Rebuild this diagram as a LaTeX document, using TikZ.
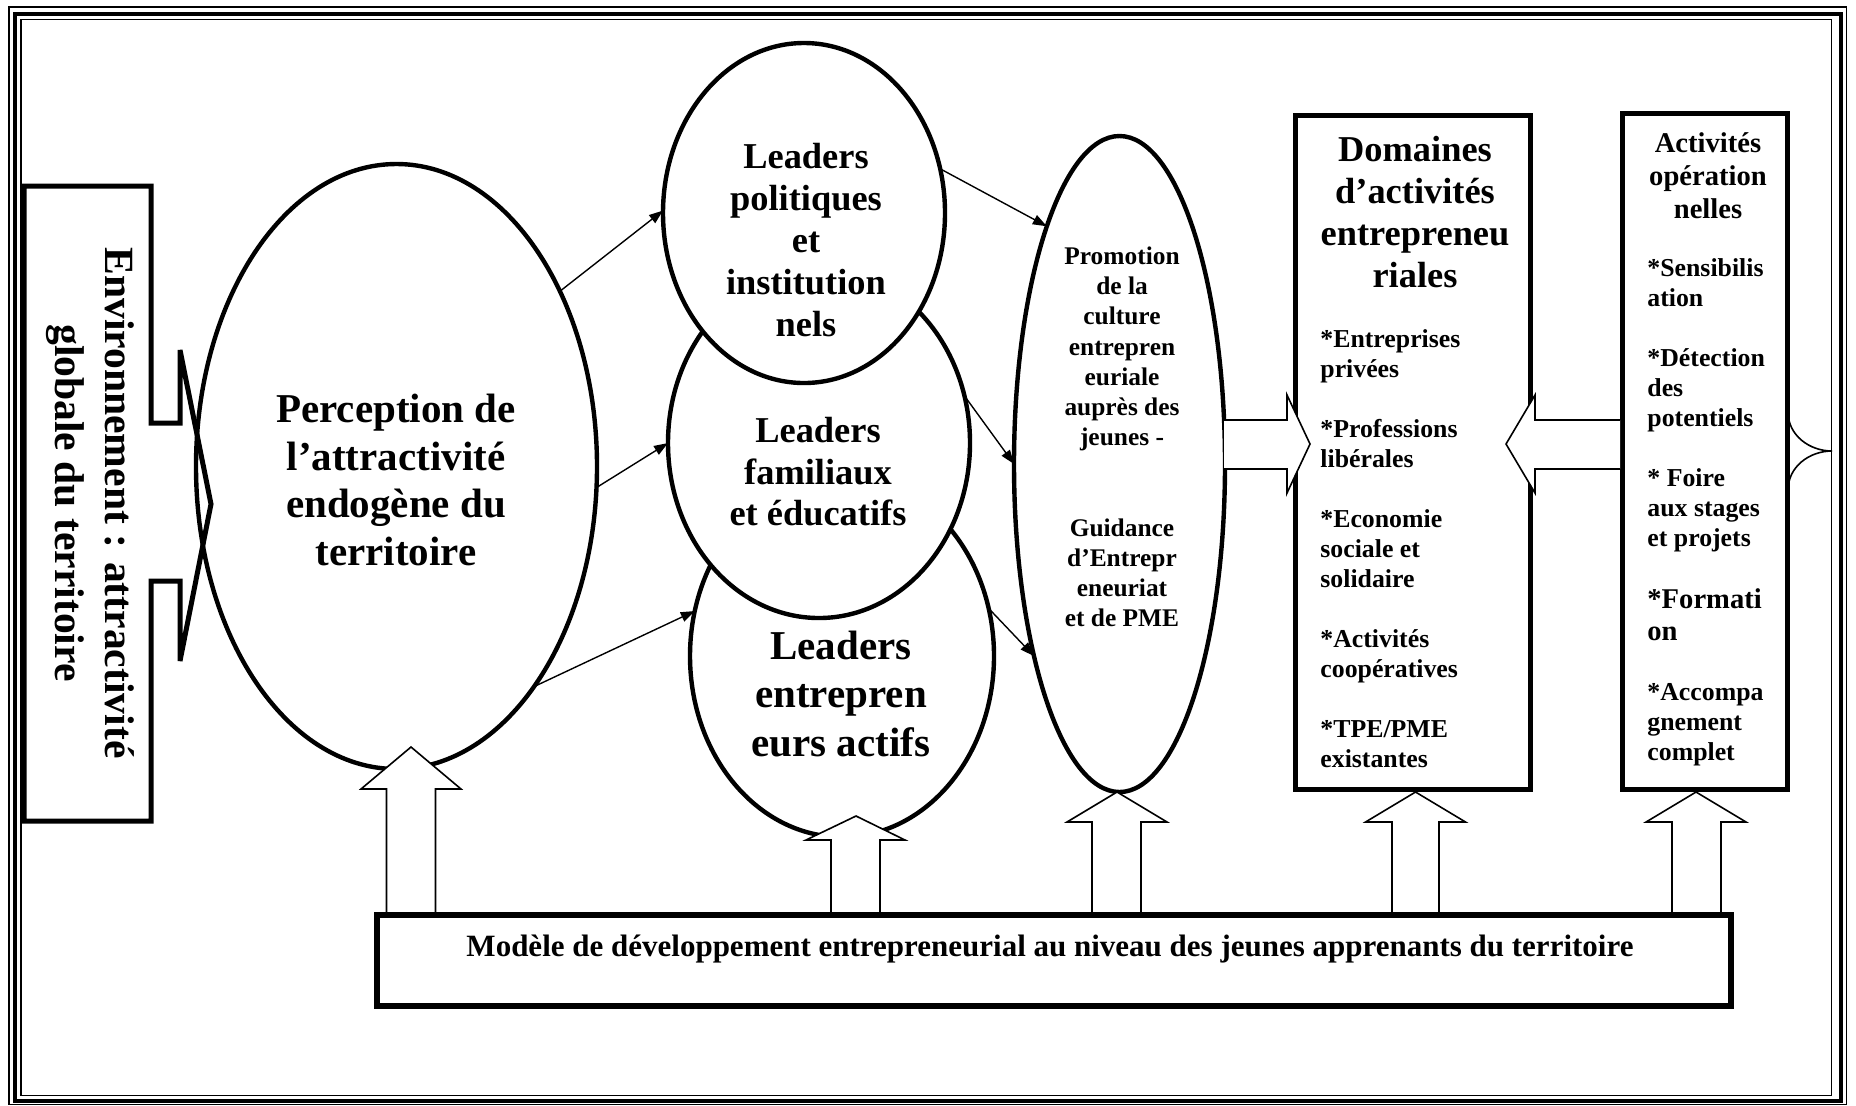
\documentclass[tikz,border=0pt]{standalone}
\usepackage{fontspec}
\setmainfont{Liberation Serif}
\usetikzlibrary{arrows.meta,shapes.geometric}
\begin{document}
\begin{tikzpicture}[x=0.5pt,y=-0.5pt,
  ell/.style={draw,ellipse,line width=2.2pt,fill=white,inner sep=0pt,outer sep=0pt},
  boxnode/.style={draw,rectangle,line width=2.6pt,inner sep=0pt,fill=white},
  lbl/.style={align=center,inner sep=0pt},
  lbll/.style={align=left,inner sep=0pt,anchor=west},
  thinarr/.style={-{Triangle[length=7pt,width=5pt]},line width=0.7pt},
  blockarr/.style={draw,fill=white,line width=0.8pt,line join=miter},
  thinframe/.style={line width=0.75pt},
  thickframe/.style={line width=2pt}
]
\useasboundingbox (0,0) rectangle (1856,1105);
% frame
\draw[thinframe] (9,7) rectangle (1846.5,1104.5);
\draw[thickframe] (14.7,14.3) rectangle (1840.5,1100.5);
\draw[thinframe] (21,19.7) rectangle (1831.5,1095.5);

% environment box with barb
\draw[line width=2.5pt,line join=miter] (24,186) -- (151,186) -- (151,423) -- (180,423) -- (180,350) -- (211,504) -- (180,661) -- (180,581) -- (151,581) -- (151,821) -- (24,821) -- cycle;
\node[lbl,rotate=-90,font=\fontsize{20.8}{25}\selectfont\bfseries] (envt) at (90,503) {Environnement : attractivité\\globale du territoire};

% perception ellipse
\node[ell,fill=none,minimum width=200.5pt,minimum height=302.5pt] (perc) at (396.5,466.5) {};
\node[lbl,font=\fontsize{20.5}{23.7}\selectfont\bfseries] (perct) at (396,480) {Perception de\\l’attractivité\\endogène du\\territoire};

% leaders ellipses (bottom, middle, top)
\node[ell,minimum width=152pt,minimum height=181pt] (lent) at (842,656) {};
\node[ell,minimum width=151pt,minimum height=175pt] (lfam) at (819,443) {};
\node[ell,minimum width=141pt,minimum height=170pt] (lpol) at (804,213) {};
\node[lbl,font=\fontsize{18.2}{20.9}\selectfont\bfseries] (lpolt) at (806,240) {Leaders\\politiques\\et\\institution\\nels};
\node[lbl,font=\fontsize{18.2}{20.75}\selectfont\bfseries] (lfamt) at (818,472) {Leaders\\familiaux\\et éducatifs};
\node[lbl,font=\fontsize{20.5}{24.3}\selectfont\bfseries] (lentt) at (841,694) {Leaders\\entrepren\\eurs actifs};

% promotion ellipse
\node[ell,minimum width=105.5pt,minimum height=328pt] (promo) at (1119.5,464) {};
\node[lbl,font=\fontsize{12.7}{15.1}\selectfont\bfseries] (promot) at (1122,437) {Promotion\\de la\\culture\\entrepren\\euriale\\auprès des\\jeunes -\\[30.2pt]Guidance\\d’Entrepr\\eneuriat\\et de PME};

% boxes
\node[boxnode,minimum width=117.5pt,minimum height=337pt] (dom) at (1413,452.5) {};
\node[lbl,font=\fontsize{18.2}{21}\selectfont\bfseries] (domt) at (1415,212) {Domaines\\d’activités\\entrepreneu\\riales};
\node[lbll,font=\fontsize{12.9}{15}\selectfont\bfseries] (domi) at (1320,548.5) {*Entreprises\\privées\\[15pt]*Professions\\libérales\\[15pt]*Economie\\sociale et\\solidaire\\[15pt]*Activités\\coopératives\\[15pt]*TPE/PME\\existantes};

\node[boxnode,minimum width=82.5pt,minimum height=338pt] (act) at (1705,451.5) {};
\node[lbl,font=\fontsize{14.3}{16.6}\selectfont\bfseries] (actt) at (1708,175.5) {Activités\\opération\\nelles};
\node[lbll,font=\fontsize{12.9}{15}\selectfont\bfseries] (acti) at (1647,512) {*Sensibilis\\ation\\[15pt]*Détection\\des\\potentiels\\[15pt]* Foire\\aux stages\\et projets\\[16pt]{\fontsize{14.3}{15}\selectfont *Formati}\\[1pt]{\fontsize{14.3}{15}\selectfont on}\\[15pt]*Accompa\\gnement\\complet};

% thin arrows
\draw[thinarr] (perc.47) -- (lpol.179);
\draw[thinarr] (perc.-6) -- (lfam.180);
\draw[thinarr] (perc.-58) -- (lent.163);
\draw[thinarr] (lpol.18) -- (promo.107);
\draw[thinarr] (lfam.18) -- (promo.180);
\draw[thinarr] (lent.18) -- (promo.-114);

% horizontal block arrows
\draw[blockarr] (1224,420) -- (1287,420) -- (1287,395) -- (1310,444) -- (1287,493) -- (1287,469) -- (1224,469);
\draw[blockarr] (1620,420) -- (1535,420) -- (1535,395) -- (1506,444) -- (1535,493) -- (1535,469) -- (1620,469);
% right curved tip
\draw[line width=0.8pt] (1788,412) to[out=-90,in=180] (1832,451) to[out=180,in=90] (1788,490);

% up block arrows
\draw[blockarr] (386.5,914) -- (386.5,789) -- (361,789) -- (411,747) -- (461,789) -- (435.5,789) -- (435.5,914);
\draw[blockarr] (831,914) -- (831,840) -- (806,840) -- (856,816) -- (905,840) -- (880,840) -- (880,914);
\draw[blockarr] (1092,914) -- (1092,822) -- (1067,822) -- (1117,792) -- (1167,822) -- (1141,822) -- (1141,914);
\draw[blockarr] (1392,914) -- (1392,822) -- (1365.5,822) -- (1415.5,792) -- (1465.5,822) -- (1439,822) -- (1439,914);
\draw[blockarr] (1672,914) -- (1672,822) -- (1646,822) -- (1696,792) -- (1746,822) -- (1721,822) -- (1721,914);

% bottom model box
\node[boxnode,line width=3pt,minimum width=677pt,minimum height=45.5pt] (model) at (1054,960.5) {};
\node[lbl,font=\fontsize{15.5}{18}\selectfont\bfseries] (modelt) at (1050,949) {Modèle de développement entrepreneurial au niveau des jeunes apprenants du territoire};
\end{tikzpicture}
\end{document}
